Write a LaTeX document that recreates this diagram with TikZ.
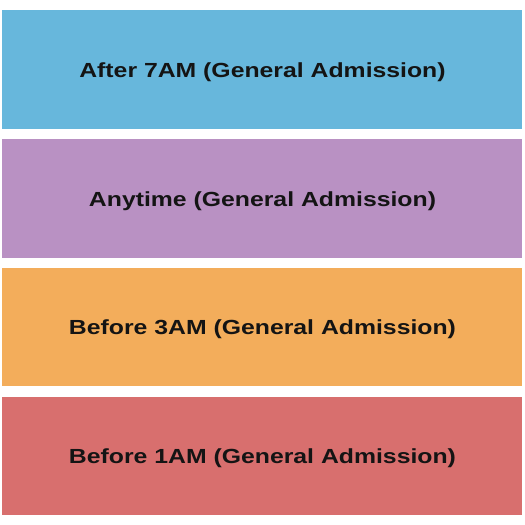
\documentclass[tikz,border=0pt]{standalone}
\usepackage{fontspec}
\setmainfont{Liberation Sans}
\definecolor{cblue}{HTML}{67B7DC}
\definecolor{cpurple}{HTML}{B991C3}
\definecolor{corange}{HTML}{F3AD5B}
\definecolor{cred}{HTML}{D86F6E}
\begin{document}
\begin{tikzpicture}[x=1pt,y=-1pt,
  bar/.style={minimum width=520pt,minimum height=118.3pt,inner sep=0pt,anchor=north west},
  lbl/.style={inner sep=0pt,anchor=base,font=\fontsize{20.4}{24}\selectfont\bfseries,text=black!92}]
\useasboundingbox[fill=white] (0,0) rectangle (525,525);
\node[bar,fill=cblue] (a) at (2,10) {};
\node[bar,fill=cpurple] (b) at (2,139) {};
\node[bar,fill=corange] (c) at (2,267.5) {};
\node[bar,fill=cred] (d) at (2,396.5) {};
\node[lbl] (ta) at (262.5,77.3) {\scalebox{1.215}[1]{After 7AM (General Admission)}};
\node[lbl] (tb) at (262.5,206.3) {\scalebox{1.215}[1]{Anytime (General Admission)}};
\node[lbl] (tc) at (262.5,334.8) {\scalebox{1.215}[1]{Before 3AM (General Admission)}};
\node[lbl] (td) at (262.5,463.8) {\scalebox{1.215}[1]{Before 1AM (General Admission)}};
\end{tikzpicture}
\end{document}
